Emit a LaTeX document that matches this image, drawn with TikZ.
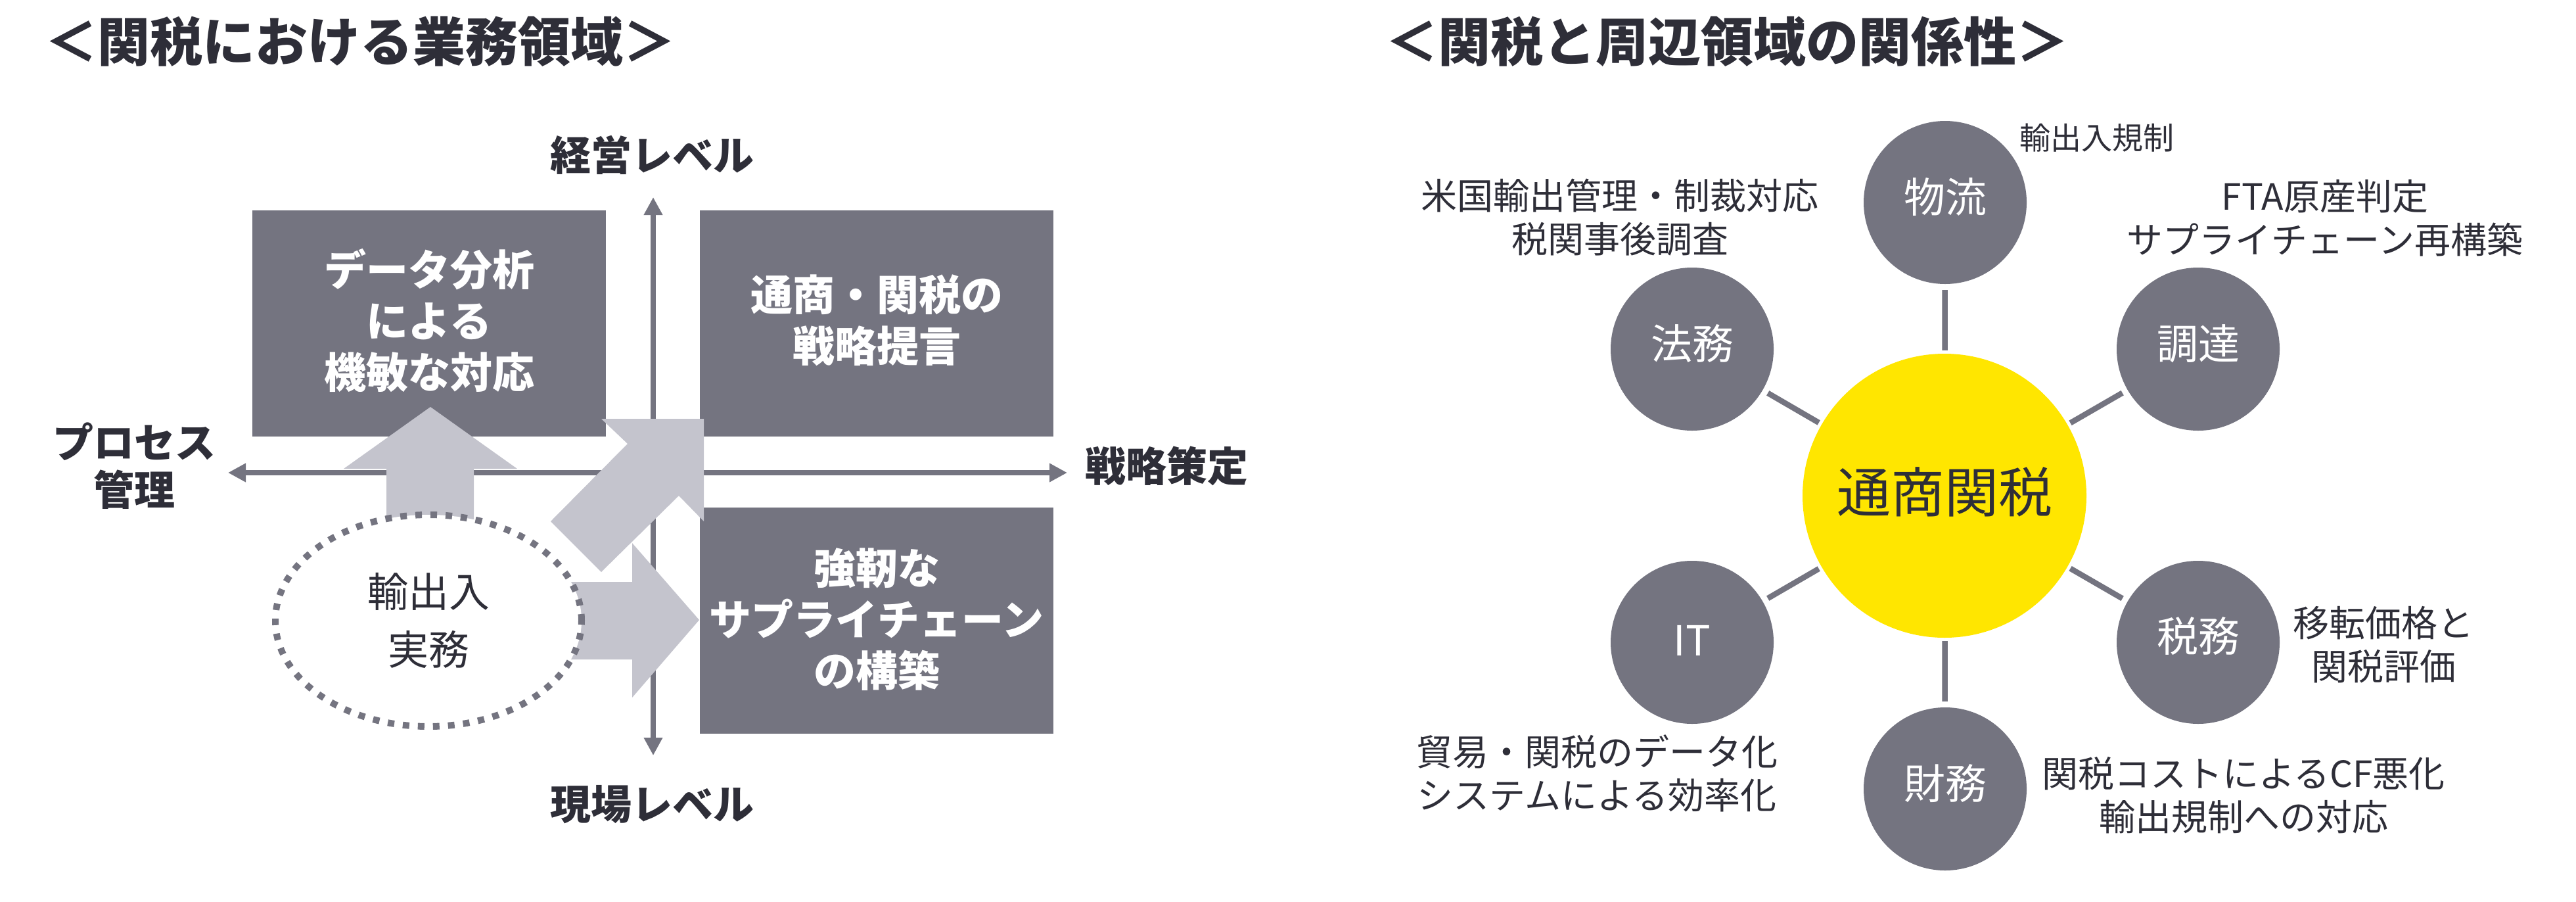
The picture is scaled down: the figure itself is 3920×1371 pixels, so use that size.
\documentclass[tikz,border=0pt]{standalone}
\usepackage{fontspec}
\setmainfont{Noto Sans CJK JP}
\usetikzlibrary{arrows.meta,shapes.geometric}
\definecolor{eydark}{HTML}{2E2E38}
\definecolor{eygray}{HTML}{747480}
\definecolor{eylight}{HTML}{C4C4CD}
\definecolor{eyyellow}{HTML}{FFE600}
\tikzset{
  heading/.style={text=eydark, font=\bfseries\fontsize{80}{90}\selectfont, inner sep=0, anchor=west},
  quad/.style={fill=eygray, minimum width=538pt, minimum height=344pt, inner sep=0},
  quadtext/.style={text=white, font=\bfseries\fontsize{64}{78}\selectfont, align=center, inner sep=0},
  axisline/.style={draw=eygray, line width=8pt, {Triangle[width=27pt,length=27pt]}-{Triangle[width=27pt,length=27pt]}},
  axlabel/.style={text=eydark, font=\bfseries\fontsize{62}{72}\selectfont, align=center, inner sep=0},
  blockarrow/.style={fill=eylight, draw=none},
  practice/.style={ellipse, fill=white, draw=eygray, line width=10pt, dash pattern=on 10pt off 13pt,
    minimum width=466pt, minimum height=322pt, inner sep=0, text=eydark,
    font=\fontsize{62}{88}\selectfont, align=center},
  hub/.style={circle, fill=eyyellow, minimum size=432pt, inner sep=0},
  hubtext/.style={text=eydark, font=\fontsize{82}{90}\selectfont, inner sep=0},
  area/.style={circle, fill=eygray, minimum size=248pt, inner sep=0},
  areatext/.style={text=white, font=\fontsize{63}{70}\selectfont, inner sep=0},
  link/.style={draw=eygray, line width=8.5pt, shorten <=5pt, shorten >=9pt},
  note/.style={text=eydark, font=\fontsize{55}{66}\selectfont, align=center, inner sep=0},
}
\begin{document}
\begin{tikzpicture}[x=1pt,y=-1pt]
\useasboundingbox (0,0) rectangle (3920,1371);
\fill[white] (0,0) rectangle (3920,1371);

% ---------- left diagram ----------
\node[heading] (t1) at (68,63) {＜関税における業務領域＞};

\coordinate (ytop) at (994,300);
\coordinate (ybot) at (994,1149);
\coordinate (xleft) at (347,719);
\coordinate (xright) at (1624,719);
\draw[axisline] (ybot) -- (ytop);
\draw[axisline] (xleft) -- (xright);

\node[quad] (q1) at (653,492) {};
\node[quad] (q2) at (1334,492) {};
\node[quad] (q3) at (1334,944) {};
\node[quadtext] (q1t) at ([yshift=5pt]q1.center) {データ分析\\による\\機敏な対応};
\node[quadtext] (q2t) at ([yshift=5pt]q2.center) {通商・関税の\\戦略提言};
\node[quadtext] (q3t) at ([yshift=2pt]q3.center) {強靭な\\サプライチェーン\\の構築};

\fill[blockarrow] (588,830) -- (588,713) -- (523,713) -- (655,619) -- (787,713) -- (721,713) -- (721,830) -- cycle;
\fill[blockarrow] (838,793) -- (955,675) -- (915,637) -- (1071,637) -- (1071,793) -- (1033,754) -- (915,870) -- cycle;
\fill[blockarrow] (800,885) -- (962,885) -- (962,826) -- (1064,943) -- (962,1061) -- (962,1003) -- (800,1003) -- cycle;

\node[practice] (pr) at (652,944) {輸出入\\実務};

\node[axlabel] (top) at (992,236) {経営レベル};
\node[axlabel] (bot) at (992,1224) {現場レベル};
\node[axlabel] (lft) at (204,709) {プロセス\\管理};
\node[axlabel, anchor=west] (rgt) at (1651,709) {戦略策定};

% ---------- right diagram ----------
\node[heading] (t2) at (2108,63) {＜関税と周辺領域の関係性＞};

\node[hub] (hub) at (2959,754) {};
\node[area] (a1) at (2960,308) {};
\node[area] (a2) at (3345,531) {};
\node[area] (a3) at (3345,977) {};
\node[area] (a4) at (2960,1200) {};
\node[area] (a5) at (2575,977) {};
\node[area] (a6) at (2575,531) {};

\node[hubtext] (hubt) at ([yshift=6pt]hub.center) {通商関税};
\node[areatext] (a1t) at ([yshift=8pt]a1.center) {物流};
\node[areatext] (a2t) at ([yshift=8pt]a2.center) {調達};
\node[areatext] (a3t) at ([yshift=9pt]a3.center) {税務};
\node[areatext] (a4t) at ([yshift=8pt]a4.center) {財務};
\node[areatext] (a5t) at ([yshift=3pt]a5.center) {IT};
\node[areatext] (a6t) at ([yshift=8pt]a6.center) {法務};

\foreach \a in {a1,a2,a3,a4,a5,a6} \draw[link] (hub) -- (\a);

\node[note, anchor=west, font=\fontsize{47}{56}\selectfont] (n1) at (3073,210) {輸出入規制};
\node[note] (n2) at (3538,332) {FTA原産判定\\サプライチェーン再構築};
\node[note] (n3) at (3627,981) {移転価格と\\関税評価};
\node[note] (n4) at (3414,1210) {関税コストによるCF悪化\\輸出規制への対応};
\node[note] (n5) at (2430,1176) {貿易・関税のデータ化\\システムによる効率化};
\node[note] (n6) at (2465,331) {米国輸出管理・制裁対応\\税関事後調査};
\end{tikzpicture}
\end{document}
